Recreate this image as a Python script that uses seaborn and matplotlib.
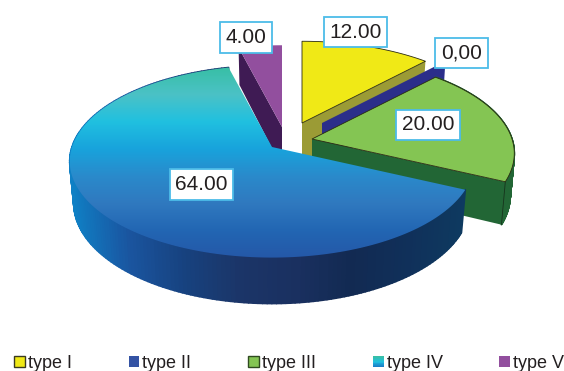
import numpy as np
import matplotlib
matplotlib.use("Agg")
import matplotlib.pyplot as plt
from matplotlib.collections import PolyCollection
from matplotlib.legend_handler import HandlerBase
from matplotlib.patches import Patch, Polygon, Rectangle
import seaborn as sns

# Data
categories = ["type I", "type II", "type III", "type IV", "type V"]
values = [12.0, 0.0, 20.0, 64.0, 4.0]
value_labels = ["12.00", "0,00", "20.00", "64.00", "4.00"]

# Slice styling: (top face, side wall)
top_colors = ["#f0e916", "#2b2e8a", "#84c553", None, "#924f9e"]
wall_colors = ["#9b9b35", "#2b2e8a", "#226635", None, "#3f1b54"]
legend_colors = ["#f0e916", "#3453a4", "#84c553", None, "#924f9e"]
legend_edges = ["#3a3a20", "none", "#2f4a20", "none", "none"]

# Where each slice's tip sits once exploded
tips = [(302, 123), (322, 123), (312, 139), (272, 147), (282, 127)]
label_pos = [(355.5, 32), (461.5, 53), (428, 125), (201.5, 184.5), (246, 37.5)]

# Gradients on the large slice
face_stops = ["#38bfa5", "#4bc2c6", "#20c0e0", "#18a3dc",
              "#2a8acb", "#3079bf", "#2266b3", "#2558a8"]
rim_stops = ["#0f80c5", "#1a55a0", "#17427f", "#1b3568",
             "#1a3060", "#122a52", "#10305a", "#0e3a60"]
swatch_stops = ["#38bfa5", "#20c0e0", "#1a80c8"]

# Projection of the pie disc
RX, RY, PERSP = 200.0, 94.0, 0.15
BASE_X, BASE_Y, DEPTH = 0.98, 1.045, 41.0

sns.set_theme(style="white")
plt.rcParams["font.family"] = ["Liberation Sans", "DejaVu Sans"]

fig = plt.figure(figsize=(5.64, 3.71), dpi=100)
ax = fig.add_axes([0, 0, 1, 1])
ax.set_xlim(0, 564)
ax.set_ylim(371, 0)
ax.axis("off")


def project(theta, tip, lower=False):
    """Screen position of a rim point at clockwise angle theta (degrees from north)."""
    t = np.radians(np.asarray(theta, dtype=float))
    u, v = np.sin(t), np.cos(t)
    w = 1 + PERSP * v
    x, y = RX * u / w, -RY * v / w
    if lower:
        x, y = x * BASE_X, y * BASE_Y + DEPTH
    return np.column_stack([tip[0] + x, tip[1] + y])


def face_polygon(start, end, tip):
    arc = project(np.linspace(start, end, 160), tip)
    return np.vstack([[tip], arc])


def radial_wall(angle, tip):
    rim_top = project([angle], tip)[0]
    rim_low = project([angle], tip, lower=True)[0]
    return np.array([tip, rim_top, rim_low, [tip[0], tip[1] + DEPTH]])


def rim_strips(start, end, tip):
    """Thin quads running round the outer wall of a slice."""
    th = np.linspace(start, end, 200)
    top, low = project(th, tip), project(th, tip, lower=True)
    return [np.array([top[k], top[k + 1], low[k + 1], low[k]]) for k in range(len(th) - 1)]


def add_rim(start, end, tip, zorder, color=None, stops=None):
    quads = rim_strips(start, end, tip)
    if stops is not None:
        cmap = sns.blend_palette(stops, as_cmap=True)
        mids = np.array([q[:, 0].mean() for q in quads])
        colors = cmap((mids - mids.min()) / (mids.max() - mids.min()))
    else:
        colors = [color] * len(quads)
    ax.add_collection(PolyCollection(quads, facecolors=colors, edgecolors=colors,
                                     linewidths=1.2, zorder=zorder))


def gradient_fill(poly, stops, zorder):
    """Paint a polygon with a gradient running from its top to its bottom."""
    cmap = sns.blend_palette(stops, as_cmap=True)
    ramp = np.linspace(0, 1, 256)[:, None]
    x0, y0 = poly.min(axis=0)
    x1, y1 = poly.max(axis=0)
    im = ax.imshow(ramp, cmap=cmap, extent=(x0, x1, y1, y0), origin="upper",
                   aspect="auto", zorder=zorder, interpolation="bilinear")
    clip = Polygon(poly, closed=True, transform=ax.transData, fc="none", ec="none")
    ax.add_patch(clip)
    im.set_clip_path(clip)


# Slice boundaries, clockwise from north
edges = np.concatenate([[0], np.cumsum(values)]) / np.sum(values) * 360.0

# Back-to-front drawing order: type V, type I, type II, type III, type IV
order = [4, 0, 1, 2, 3]
for z, i in enumerate(order):
    start, end = edges[i], edges[i + 1]
    tip = tips[i]
    base = z * 10 + 2
    if top_colors[i] is None:
        add_rim(start, end, tip, base, stops=rim_stops)
        gradient_fill(face_polygon(start, end, tip), face_stops, base + 1)
        continue
    # Cut wall facing the viewer
    wall_angle = start if i == 4 else end
    ax.add_patch(Polygon(radial_wall(wall_angle, tip), closed=True,
                         fc=wall_colors[i], ec="none", zorder=base))
    if end > start:
        if i == 2:
            add_rim(start, end, tip, base, color=wall_colors[i])
            rim_corner = project([end], tip)[0]
            low_corner = project([end], tip, lower=True)[0]
            ax.plot(*zip(rim_corner, low_corner), color="#16331c", lw=0.6, zorder=base + 1)
        edge = "none" if i == 4 else "#2a2a10"
        ax.add_patch(Polygon(face_polygon(start, end, tip), closed=True,
                             fc=top_colors[i], ec=edge, lw=0.6, zorder=base + 2))

ax.set_xlim(0, 564)
ax.set_ylim(371, 0)

# Value labels
for text, (x, y) in zip(value_labels, label_pos):
    ax.text(x, y, text, ha="center", va="center", fontsize=15, color="#231f20", zorder=100,
            bbox=dict(boxstyle="square,pad=0.27", fc="white", ec="#4cbce8", lw=1.3))


class GradientSwatch(HandlerBase):
    """Legend key filled with a stack of thin colour bands."""

    def create_artists(self, legend, orig_handle, xdescent, ydescent, width, height,
                       fontsize, trans):
        cols = sns.blend_palette(swatch_stops, 12)
        step = height / len(cols)
        return [Rectangle((-xdescent, -ydescent + height - (k + 1) * step), width, step * 1.05,
                          fc=c, ec="none", transform=trans)
                for k, c in enumerate(cols)]


handles = []
handler_map = {}
for i, name in enumerate(categories):
    if legend_colors[i] is None:
        h = Patch(label=name)
        handler_map[h] = GradientSwatch()
    else:
        h = Patch(fc=legend_colors[i], ec=legend_edges[i], lw=1.0, label=name)
    handles.append(h)

ax.legend(handles=handles, handler_map=handler_map, ncol=5, loc="lower left",
          bbox_to_anchor=(14 / 564, 1 - 372 / 371), frameon=False, fontsize=13,
          labelcolor="#231f20", columnspacing=3.14, handlelength=0.6, handleheight=0.6,
          handletextpad=0.17, borderpad=0, borderaxespad=0)

fig.savefig("out.png", dpi=100, facecolor="white")
